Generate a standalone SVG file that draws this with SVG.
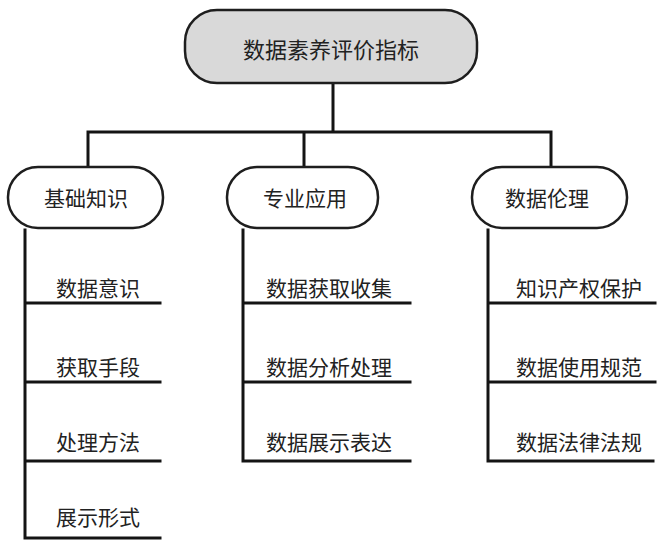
<svg xmlns="http://www.w3.org/2000/svg" width="659" height="542" viewBox="0 0 659 542">
<style>
.box{fill:#ffffff;stroke:#1e1e1e;stroke-width:2.5}
.root{fill:#d9d9d9;stroke:#1e1e1e;stroke-width:2.5}
.ln{stroke:#141414;stroke-width:3;fill:none;stroke-linecap:square}
text{font-family:"Noto Sans CJK SC","Noto Sans CJK JP",sans-serif;fill:#222;font-size:21px}
.c{text-anchor:middle;dominant-baseline:central}
.l{text-anchor:start}
</style>
<rect width="659" height="542" fill="#ffffff"/>
<g id="connectors">
<path class="ln" d="M333,83 V132 M88,167 V132 H551 V167 M304,132 V167"/>
<path class="ln" d="M25,230 V538 H160 M25,303 H160 M25,382 H160 M25,461 H160"/>
<path class="ln" d="M243,230 V461 H410 M243,303 H410 M243,382 H410"/>
<path class="ln" d="M488,230 V461 H653 M488,303 H655 M488,382 H655"/>
</g>
<g id="root">
<rect class="root" x="185" y="10" width="292" height="73" rx="32"/>
<text class="c" x="331" y="48" style="font-size:22px">数据素养评价指标</text>
</g>
<g id="n1">
<rect class="box" x="8" y="167" width="155" height="61" rx="30"/>
<text class="c" x="86" y="197">基础知识</text>
</g>
<g id="n2">
<rect class="box" x="227" y="167" width="151" height="61" rx="30"/>
<text class="c" x="305" y="197">专业应用</text>
</g>
<g id="n3">
<rect class="box" x="472" y="167" width="155" height="61" rx="30"/>
<text class="c" x="547" y="197">数据伦理</text>
</g>
<g id="a1"><text class="l" x="56" y="296">数据意识</text></g>
<g id="a2"><text class="l" x="56" y="375">获取手段</text></g>
<g id="a3"><text class="l" x="56" y="450">处理方法</text></g>
<g id="a4"><text class="l" x="56" y="525">展示形式</text></g>
<g id="b1"><text class="l" x="266" y="296">数据获取收集</text></g>
<g id="b2"><text class="l" x="266" y="375">数据分析处理</text></g>
<g id="b3"><text class="l" x="266" y="450">数据展示表达</text></g>
<g id="c1"><text class="l" x="516" y="296">知识产权保护</text></g>
<g id="c2"><text class="l" x="516" y="375">数据使用规范</text></g>
<g id="c3"><text class="l" x="516" y="450">数据法律法规</text></g>
</svg>
